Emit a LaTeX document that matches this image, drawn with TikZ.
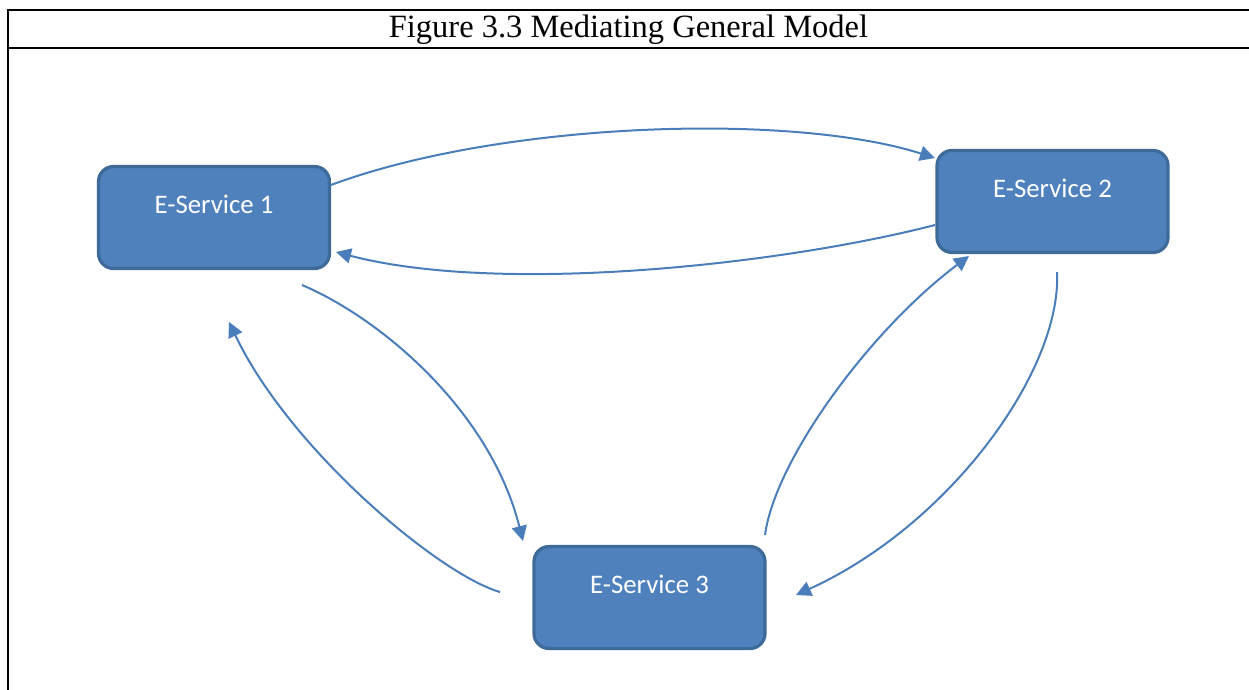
\documentclass[tikz,border=0pt]{standalone}
\usepackage{fontspec}
\setmainfont{Liberation Serif}
\newfontfamily\boxfont{Carlito}
\usetikzlibrary{arrows.meta}
\definecolor{boxfill}{HTML}{4F81BD}
\definecolor{boxline}{HTML}{3D6A99}
\definecolor{arrowc}{HTML}{4A7EBB}
\begin{document}
\begin{tikzpicture}[x=1pt,y=-1pt,
  svc/.style={draw=boxline, line width=3.2pt, fill=boxfill, rounded corners=15pt,
    minimum width=231pt, minimum height=102pt, text=white,
    font=\boxfont\fontsize{26.8}{32}\selectfont, text height=17pt, text depth=25pt, inner sep=0pt},
  conn/.style={draw=arrowc, line width=2pt, -{Triangle[length=15pt,width=15pt]}},
  rule/.style={line width=2.2pt, black}]
\useasboundingbox (0,0) rectangle (1249,690);
% table frame
\coordinate (tl) at (8,10);
\coordinate (tr) at (1249,10);
\coordinate (ml) at (8,48);
\coordinate (mr) at (1249,48);
\coordinate (bl) at (8,690);
\draw[rule] (tr) -- (tl) -- (bl);
\draw[rule] (ml) -- (mr);
\node[font=\fontsize{32.5}{36}\selectfont, anchor=base] (title) at (628.5,38) {Figure 3.3 Mediating General Model};
% boxes
\node[svc] (s1) at (214,217.5) {E-Service 1};
\node[svc] (s2) at (1052.5,201.5) {E-Service 2};
\node[svc] (s3) at (649.5,597.5) {E-Service 3};
% connector ends
\coordinate (a1s) at (331,185);
\coordinate (a1e) at (935,158);
\coordinate (a2s) at (935,225);
\coordinate (a2e) at (336,252);
\coordinate (a3s) at (302,285);
\coordinate (a3e) at (523,541);
\coordinate (a4s) at (500,592);
\coordinate (a4e) at (229,322);
\coordinate (a5s) at (765,535);
\coordinate (a5e) at (969,256);
\coordinate (a6s) at (1057,272);
\coordinate (a6e) at (796,595);
\draw[conn] (a1s) .. controls (500,122) and (790,112) .. (a1e);
\draw[conn] (a2s) .. controls (780,265) and (500,295) .. (a2e);
\draw[conn] (a3s) .. controls (380,318) and (490,410) .. (a3e);
\draw[conn] (a4s) .. controls (440,575) and (290,450) .. (a4e);
\draw[conn] (a5s) .. controls (775,460) and (870,330) .. (a5e);
\draw[conn] (a6s) .. controls (1062,370) and (950,525) .. (a6e);
\end{tikzpicture}
\end{document}
